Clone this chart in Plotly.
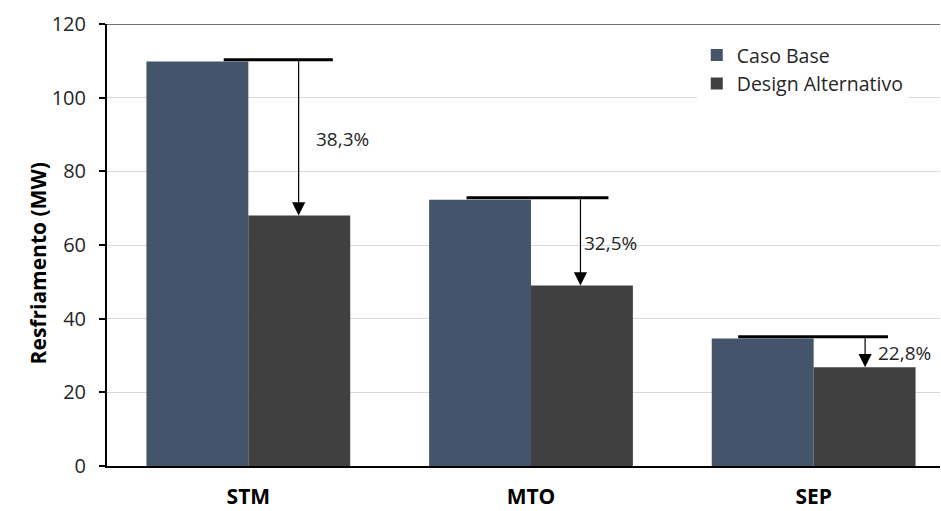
import plotly.graph_objects as go

categories = ["STM", "MTO", "SEP"]
caso_base = [109.8, 72.3, 34.6]
design_alt = [68.0, 49.0, 26.8]
reductions = ["38,3%", "32,5%", "22,8%"]
y_ticks = [0, 20, 40, 60, 80, 100, 120]

# annotation layout offsets (relative to category centre)
line_lo = [-0.087, -0.228, -0.267]
line_hi = [0.299, 0.274, 0.263]
arrow_dx = [0.178, 0.175, 0.182]
label_dx = [0.334, 0.281, 0.320]

FONT = "Open Sans"
xpos = list(range(len(categories)))

fig = go.Figure()
fig.add_trace(go.Bar(x=xpos, y=caso_base, name="Caso Base",
                     marker=dict(color="#44546A", line=dict(width=0))))
fig.add_trace(go.Bar(x=xpos, y=design_alt, name="Design Alternativo",
                     marker=dict(color="#404040", line=dict(width=0))))

shapes = [dict(type="line", xref="paper", yref="y", x0=0, x1=1, y0=120, y1=120,
               line=dict(color="#404040", width=1.5))]
annotations = []
for i in xpos:
    b, d = caso_base[i], design_alt[i]
    shapes.append(dict(type="line", xref="x", yref="y",
                       x0=i + line_lo[i], x1=i + line_hi[i], y0=b + 0.5, y1=b + 0.5,
                       line=dict(color="black", width=3)))
    annotations.append(dict(x=i + arrow_dx[i], y=d, ax=i + arrow_dx[i], ay=b + 0.5,
                            xref="x", yref="y", axref="x", ayref="y", text="",
                            showarrow=True, arrowhead=2, arrowsize=2.2, arrowwidth=1.2,
                            arrowcolor="black", standoff=0, startstandoff=0))
    annotations.append(dict(x=i + label_dx[i], y=(b + d) / 2, xref="x", yref="y",
                            text=reductions[i], showarrow=False,
                            font=dict(family=FONT, size=19, color="#262626")))

annotations.append(dict(x=(22 - 107) / 833, y=1 - (265 - 24) / 445, xref="paper", yref="paper",
                        text="<b>Resfriamento (MW)</b>", textangle=-90, showarrow=False,
                        font=dict(family=FONT, size=21, color="black")))

fig.update_layout(
    width=941, height=511,
    margin=dict(l=107, r=1, t=24, b=42),
    paper_bgcolor="white", plot_bgcolor="white",
    barmode="group", bargap=0.279, bargroupgap=0,
    font=dict(family=FONT, size=19, color="#262626"),
    shapes=shapes, annotations=annotations,
    legend=dict(x=0.708, y=0.973, xanchor="left", yanchor="top",
                bgcolor="white", font=dict(family=FONT, size=19.5, color="#262626"),
                tracegroupgap=11, traceorder="normal"),
    xaxis=dict(range=[-0.5, 2.447], tickvals=xpos,
               ticktext=["<b>%s</b>" % c for c in categories],
               tickfont=dict(family=FONT, size=21, color="black"),
               showline=True, linecolor="black", linewidth=2, ticks="",
               showgrid=False, zeroline=False, ticklabelstandoff=11),
    yaxis=dict(range=[0, 120], tickvals=y_ticks, showgrid=True, gridcolor="#d9d9d9",
               gridwidth=1, zeroline=False, showline=True, linecolor="black", linewidth=2,
               ticks="outside", ticklen=6, tickwidth=2, tickcolor="black",
               tickfont=dict(family=FONT, size=20, color="#262626"),
               ticklabelstandoff=9),
)

fig.write_html("out.html")
